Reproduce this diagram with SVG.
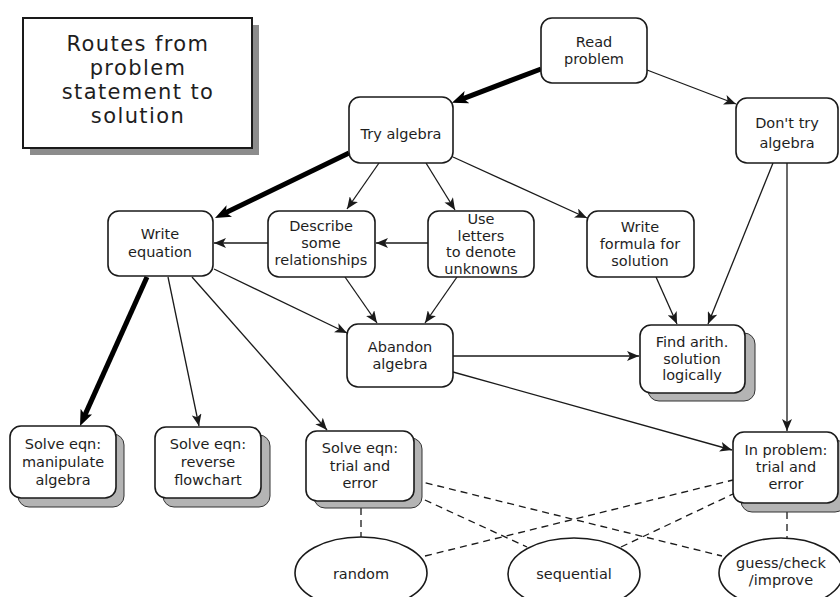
<svg xmlns="http://www.w3.org/2000/svg" width="840" height="597" viewBox="0 0 840 597">
<defs>
<style>
.box{fill:#fff;stroke:#1a1a1a;stroke-width:1.6}
.sh{fill:#b4b4b4;stroke:#333;stroke-width:1}
.t{font-family:"DejaVu Sans",Verdana,sans-serif;font-size:14.5px;fill:#1e1e1e;text-anchor:middle;dominant-baseline:central}
.title{font-family:"DejaVu Sans",Verdana,sans-serif;font-size:21px;letter-spacing:1.4px;fill:#1e1e1e;text-anchor:middle;dominant-baseline:central}
.ln{fill:none;stroke:#1a1a1a;stroke-width:1.3;marker-end:url(#ah)}
.thick{fill:none;stroke:#000;stroke-width:5;marker-end:url(#ahT)}
.dash{fill:none;stroke:#1a1a1a;stroke-width:1.3;stroke-dasharray:7,5}
.ell{fill:#fff;stroke:#1a1a1a;stroke-width:1.6}
</style>
<marker id="ah" markerUnits="userSpaceOnUse" markerWidth="13" markerHeight="10" refX="12" refY="5" orient="auto">
<path d="M0,0 L12,5 L0,10 L3,5 z" fill="#1a1a1a"/>
</marker>
<marker id="ahT" markerUnits="userSpaceOnUse" markerWidth="17" markerHeight="13" refX="6" refY="6.5" orient="auto">
<path d="M0,0 L16,6.5 L0,13 L4,6.5 z" fill="#000"/>
</marker>
</defs>
<rect width="840" height="597" fill="#fff"/>

<g id="title">
<rect x="30" y="25" width="229" height="130" fill="#8c8c8c"/>
<rect x="23" y="18" width="229" height="130" fill="#fff" stroke="#1a1a1a" stroke-width="2"/>
<text class="title" x="138" y="44">Routes from</text>
<text class="title" x="138" y="68">problem</text>
<text class="title" x="138" y="92">statement to</text>
<text class="title" x="138" y="116">solution</text>
</g>

<g id="connectors">
<path class="thick" d="M541,69 L461.3,99.3"/>
<path class="ln" d="M647,70 L736,104"/>
<path class="thick" d="M349,153 L224,213.6"/>
<path class="ln" d="M379,163 L347,209"/>
<path class="ln" d="M426,163 L455,210"/>
<path class="ln" d="M453,157 L587,218"/>
<path class="ln" d="M268,243 L214,243"/>
<path class="ln" d="M428,243 L376,243"/>
<path class="ln" d="M345,277 L377,323"/>
<path class="ln" d="M457,277 L425,323"/>
<path class="ln" d="M214,269 L347,333"/>
<path class="thick" d="M147,277 L84.1,416.9"/>
<path class="ln" d="M168,277 L199,426"/>
<path class="ln" d="M192,277 L327,430"/>
<path class="ln" d="M453,356 L639,356"/>
<path class="ln" d="M656,277 L677,324"/>
<path class="ln" d="M773,163 L708,324"/>
<path class="ln" d="M787,163 L787,431"/>
<path class="ln" d="M453,372 L732,450"/>
<path class="dash" d="M361,508 L361,537"/>
<path class="dash" d="M787,512 L787,538"/>
<path class="dash" d="M414,480 L722,556"/>
<path class="dash" d="M414,495 L527,547"/>
<path class="dash" d="M425,556 L733,480"/>
<path class="dash" d="M621,547 L733,494"/>
</g>

<g id="read-problem">
<rect class="box" x="541" y="18" width="106" height="65" rx="11"/>
<text class="t" x="594" y="42">Read</text>
<text class="t" x="594" y="59">problem</text>
</g>

<g id="try-algebra">
<rect class="box" x="349" y="97" width="104" height="66" rx="11"/>
<text class="t" x="401" y="134">Try algebra</text>
</g>

<g id="dont-try">
<rect class="box" x="736" y="98" width="102" height="65" rx="11"/>
<text class="t" x="787" y="123">Don't  try</text>
<text class="t" x="787" y="143">algebra</text>
</g>

<g id="write-equation">
<rect class="box" x="108" y="211" width="105" height="65" rx="11"/>
<text class="t" x="160" y="234">Write</text>
<text class="t" x="160" y="252">equation</text>
</g>

<g id="describe">
<rect class="box" x="268" y="211" width="107" height="66" rx="11"/>
<text class="t" x="321" y="226">Describe</text>
<text class="t" x="321" y="243">some</text>
<text class="t" x="321" y="260">relationships</text>
</g>

<g id="use-letters">
<rect class="box" x="428" y="211" width="106" height="66" rx="11"/>
<text class="t" x="481" y="219">Use</text>
<text class="t" x="481" y="236">letters</text>
<text class="t" x="481" y="252">to denote</text>
<text class="t" x="481" y="269">unknowns</text>
</g>

<g id="write-formula">
<rect class="box" x="587" y="211" width="107" height="66" rx="11"/>
<text class="t" x="640" y="227">Write</text>
<text class="t" x="640" y="244">formula for</text>
<text class="t" x="640" y="261">solution</text>
</g>

<g id="abandon-algebra">
<rect class="box" x="347" y="324" width="106" height="63" rx="11"/>
<text class="t" x="400" y="347">Abandon</text>
<text class="t" x="400" y="364">algebra</text>
</g>

<g id="find-arith">
<rect class="sh" x="648" y="333" width="107" height="68" rx="11"/>
<rect class="box" x="640" y="325" width="105" height="68" rx="11"/>
<text class="t" x="692" y="342">Find arith.</text>
<text class="t" x="692" y="359">solution</text>
<text class="t" x="692" y="375">logically</text>
</g>

<g id="solve-manipulate">
<rect class="sh" x="18" y="434" width="106" height="73" rx="11"/>
<rect class="box" x="10" y="426" width="106" height="72" rx="11"/>
<text class="t" x="63" y="444">Solve eqn:</text>
<text class="t" x="63" y="462">manipulate</text>
<text class="t" x="63" y="480">algebra</text>
</g>

<g id="solve-reverse">
<rect class="sh" x="163" y="435" width="107" height="72" rx="11"/>
<rect class="box" x="155" y="427" width="106" height="71" rx="11"/>
<text class="t" x="208" y="444">Solve eqn:</text>
<text class="t" x="208" y="462">reverse</text>
<text class="t" x="208" y="480">flowchart</text>
</g>

<g id="solve-trial">
<rect class="sh" x="314" y="438" width="108" height="70" rx="11"/>
<rect class="box" x="306" y="431" width="108" height="70" rx="11"/>
<text class="t" x="360" y="448">Solve eqn:</text>
<text class="t" x="360" y="466">trial and</text>
<text class="t" x="360" y="483">error</text>
</g>

<g id="in-problem">
<rect class="sh" x="741" y="440" width="105" height="72" rx="11"/>
<rect class="box" x="733" y="432" width="105" height="71" rx="11"/>
<text class="t" x="786" y="450">In problem:</text>
<text class="t" x="786" y="467">trial and</text>
<text class="t" x="786" y="484">error</text>
</g>

<g id="random">
<ellipse class="ell" cx="361" cy="573" rx="66" ry="36"/>
<text class="t" x="361" y="574">random</text>
</g>

<g id="sequential">
<ellipse class="ell" cx="574" cy="574" rx="66" ry="36"/>
<text class="t" x="574" y="574">sequential</text>
</g>

<g id="guess">
<ellipse class="ell" cx="781" cy="573" rx="62" ry="35"/>
<text class="t" x="781" y="563">guess/check</text>
<text class="t" x="781" y="580">/improve</text>
</g>
</svg>
